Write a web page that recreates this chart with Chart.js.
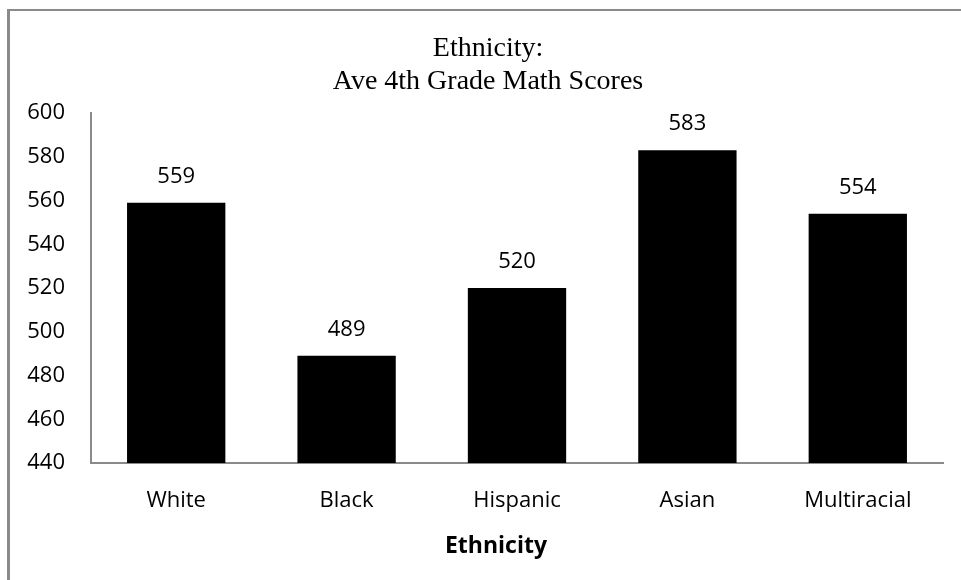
<!DOCTYPE html>
<html>
<head>
<meta charset="utf-8">
<script src="https://cdn.jsdelivr.net/npm/chart.js@4/dist/chart.umd.min.js"></script>
<style>
  html, body { margin: 0; padding: 0; background: #fff; }
  #wrap { width: 961px; height: 580px; position: relative; }
</style>
</head>
<body>
<div id="wrap"><canvas id="chart" width="961" height="580"></canvas></div>
<script>
// data
var categories = ['White', 'Black', 'Hispanic', 'Asian', 'Multiracial'];
var scores = [559, 489, 520, 583, 554];
var yMin = 440;
var yMax = 600;
var yStep = 20;
var xTitle = 'Ethnicity';

var tickFont = { family: "'Open Sans', sans-serif", size: 22 };

// frame round the chart (top and left edge only, as in the picture)
var framePlugin = {
  id: 'frame',
  beforeDraw: function(chart) {
    var ctx = chart.ctx;
    ctx.save();
    ctx.fillStyle = '#ffffff';
    ctx.fillRect(0, 0, chart.width, chart.height);
    ctx.fillStyle = '#8a8a8a';
    ctx.fillRect(8, 9, chart.width - 8, 2);
    ctx.fillRect(7, 9, 3, chart.height - 9);
    ctx.restore();
  }
};

// value labels above the bars + axis title (sits a bit left of centre in the picture)
var valueLabels = {
  id: 'valueLabels',
  afterDatasetsDraw: function(chart) {
    var ctx = chart.ctx;
    var meta = chart.getDatasetMeta(0);
    ctx.save();
    ctx.font = tickFont.size + 'px ' + tickFont.family;
    ctx.fillStyle = '#000';
    ctx.textAlign = 'center';
    ctx.textBaseline = 'alphabetic';
    meta.data.forEach(function(bar, i) {
      ctx.fillText(String(scores[i]), bar.x, bar.y - 20);
    });

    ctx.font = "bold 23px 'Open Sans', sans-serif";
    ctx.fillText(xTitle, chart.chartArea.left + 405, 553);
    ctx.restore();
  }
};

new Chart(document.getElementById('chart'), {
  type: 'bar',
  data: {
    labels: categories,
    datasets: [{
      data: scores,
      backgroundColor: '#000000',
      borderWidth: 0,
      categoryPercentage: 1,
      barPercentage: 0.577
    }]
  },
  options: {
    responsive: false,
    animation: false,
    layout: { padding: { left: 15, right: 0, top: 0, bottom: 0 } },
    plugins: {
      legend: { display: false },
      tooltip: { enabled: false },
      title: {
        display: true,
        text: ['Ethnicity:', 'Ave 4th Grade Math Scores'],
        color: '#000',
        font: { family: "'Liberation Serif', 'Times New Roman', serif", size: 28, weight: 'normal', lineHeight: 1.18 },
        padding: { top: 32, bottom: 15 }
      }
    },
    scales: {
      x: {
        grid: { display: false },
        border: { display: true, color: '#8a8a8a', width: 2 },
        ticks: { color: '#000', font: tickFont, padding: 17, maxRotation: 0 },
        afterFit: function(scale) { scale.height = 117; }
      },
      y: {
        min: yMin,
        max: yMax,
        grid: { display: false },
        border: { display: true, color: '#8a8a8a', width: 2 },
        ticks: { stepSize: yStep, color: '#000', font: tickFont, padding: 18 },
        afterFit: function(scale) { scale.width = 76; }
      },
      // empty right-hand axis, only keeps the plot off the right edge
      spacer: {
        position: 'right',
        grid: { display: false },
        border: { display: false },
        ticks: { display: false },
        afterFit: function(scale) { scale.width = 18; }
      }
    }
  },
  plugins: [framePlugin, valueLabels]
});
</script>
</body>
</html>
